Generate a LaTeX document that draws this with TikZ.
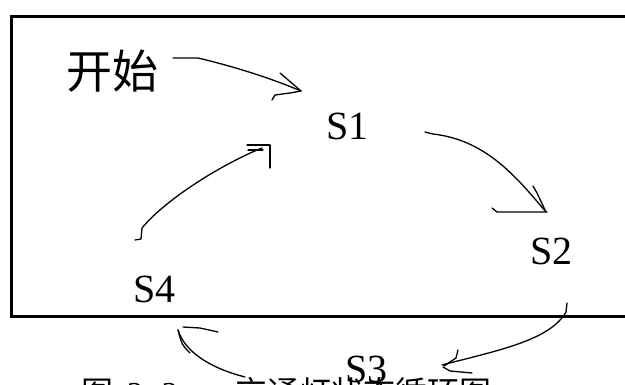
\documentclass[tikz,border=0pt]{standalone}
\usepackage{fontspec}
\setmainfont{Liberation Serif}
\newfontfamily\cjk{Noto Sans CJK SC}
\begin{document}
\begin{tikzpicture}[x=1pt,y=-1pt,
  hand/.style={line width=1.3pt, line cap=round, line join=round},
  lbl/.style={inner sep=0pt, anchor=base west, font=\fontsize{40}{40}\selectfont},
  captext/.style={inner sep=0pt, anchor=base west, font=\fontsize{32}{32}\selectfont}]
\useasboundingbox (0,0) rectangle (625,385);
\clip (0,0) rectangle (625,385);
% frame (right edge outside the picture)
\draw[line width=3pt] (640,17) -- (11,17) -- (11,317) -- (640,317);
% states
\node[inner sep=0pt, anchor=base west, font=\cjk\fontsize{46}{46}\selectfont] (start) at (66,89) {开始};
\node[lbl] (s1) at (326,140) {S1};
\node[lbl] (s2) at (530,265) {S2};
\node[lbl] (s3) at (345,383) {S3};
\node[lbl] (s4) at (133,303) {S4};
% caption (cut off by the bottom edge)
\node[captext, font=\cjk\fontsize{32}{32}\selectfont] (capa) at (81,405) {图};
\node[captext] (capb) at (127,405) {2. 2};
\node[captext, font=\cjk\fontsize{32}{32}\selectfont] (capc) at (235,405) {交通灯状态循环图};
% named end points of the hand-drawn connectors
\coordinate (a1s) at (173,58);
\coordinate (a1t) at (301,91);
\coordinate (a2s) at (425,132);
\coordinate (a2t) at (546,212);
\coordinate (a3s) at (567,303);
\coordinate (a3t) at (442,365);
\coordinate (a4s) at (245,377);
\coordinate (a4t) at (178,330);
\coordinate (a5s) at (135,240);
\coordinate (a5t) at (262,148);
% start -> S1
\draw[hand] (a1s) -- (198,58) .. controls (240,68) and (275,80) .. (a1t);
\draw[hand] (280,73) -- (a1t);
\draw[hand] (272,100) -- (275,95) -- (290,93) -- (a1t);
% S1 -> S2
\draw[hand] (a2s) -- (433,134) .. controls (485,140) and (515,175) .. (a2t);
\draw[hand] (533,186) -- (537,193) -- (a2t);
\draw[hand] (492,208) -- (497,212) -- (547,212);
% S2 -> S3
\draw[hand] (a3s) -- (566,312) .. controls (550,340) and (500,350) .. (a3t);
\draw[hand] (458,350) -- (456,358) -- (444,366);
\draw[hand] (443,367) -- (450,371) -- (472,373);
% S3 -> S4
\draw[hand] (a4s) .. controls (210,368) and (185,352) .. (a4t);
\draw[hand] (a4t) .. controls (182,345) .. (190,353);
\draw[hand] (183,327) -- (200,328) -- (218,332);
% S4 -> S1
\draw[hand] (a5s) -- (141,239) -- (142,228) .. controls (165,200) and (220,165) .. (a5t);
\draw[hand] (247,145) -- (270,145) -- (270,168);
\draw[hand] (248,150) -- (263,150);
\end{tikzpicture}
\end{document}
